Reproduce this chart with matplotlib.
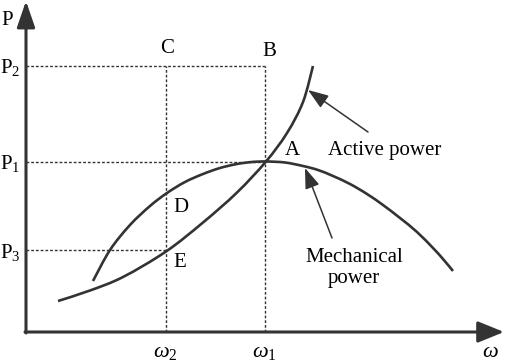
import matplotlib
matplotlib.use("Agg")
import matplotlib.pyplot as plt
from matplotlib.path import Path
from matplotlib.patches import PathPatch

plt.rcParams['font.family'] = ['Liberation Serif', 'DejaVu Serif']
plt.rcParams['mathtext.fontset'] = 'custom'
plt.rcParams['mathtext.rm'] = 'Liberation Serif'
plt.rcParams['mathtext.it'] = 'Liberation Serif:italic'

# ---- data (schematic units: omega horizontal, P vertical) ----
omega1 = 239
omega2 = 140
P1 = 170.5
P2 = 266.5
P3 = 82

active_w = [32, 64, 97, 140, 177, 211, 240, 261, 277, 287]
active_p = [31, 41.5, 55, 80.5, 109.5, 139.5, 170.5, 199, 230, 266]

mech_w = [67, 84, 104, 124, 141, 159, 177, 194, 211, 226, 240, 259, 277, 292,
          307, 324, 341, 357, 374, 391, 407, 417, 427]
mech_p = [51, 82, 107, 126, 139, 150, 158, 164, 168, 170, 170.5, 169.5, 166, 162,
          156, 148, 138, 127, 114, 100, 84, 73, 61]

y_labels = [r'$\mathrm{P}_2$', r'$\mathrm{P}_1$', r'$\mathrm{P}_3$']
y_levels = [P2, P1, P3]
x_labels = [r'$\omega_2$', r'$\omega_1$']
x_levels = [omega2, omega1]


def smooth_path(xs, ys):
    """Catmull-Rom control points -> cubic Bezier path through the read points."""
    pts = list(zip(xs, ys))
    n = len(pts)
    verts = [pts[0]]
    codes = [Path.MOVETO]
    for i in range(n - 1):
        p0 = pts[i - 1] if i > 0 else pts[i]
        p1 = pts[i]
        p2 = pts[i + 1]
        p3 = pts[i + 2] if i + 2 < n else pts[i + 1]
        c1 = (p1[0] + (p2[0] - p0[0]) / 6, p1[1] + (p2[1] - p0[1]) / 6)
        c2 = (p2[0] - (p3[0] - p1[0]) / 6, p2[1] - (p3[1] - p1[1]) / 6)
        verts += [c1, c2, p2]
        codes += [Path.CURVE4] * 3
    return Path(verts, codes)


fig = plt.figure(figsize=(5.05, 3.62), dpi=100)
ax = fig.add_axes([0, 0, 1, 1])
ax.set_xlim(-26, 479)
ax.set_ylim(-30, 332)
ax.axis('off')

ink = '#333333'
dash = dict(color='#333333', lw=1.0, ls=(0, (2.0, 1.4)))

# dashed guide lines
ax.plot([0, omega1], [P2, P2], **dash)
ax.plot([0, omega1], [P1, P1], **dash)
ax.plot([0, omega2], [P3, P3], **dash)
ax.plot([omega2, omega2], [0, P2], **dash)
ax.plot([omega1, omega1], [0, P2], **dash)

# axes with arrows
ax.annotate('', xy=(478, 0), xytext=(-1, 0),
            arrowprops=dict(arrowstyle='-|>,head_length=1.6,head_width=0.65',
                            color=ink, lw=2.2, shrinkA=0, shrinkB=0, mutation_scale=10))
ax.annotate('', xy=(0, 331), xytext=(0, -1),
            arrowprops=dict(arrowstyle='-|>,head_length=1.6,head_width=0.55',
                            color=ink, lw=2.2, shrinkA=0, shrinkB=0, mutation_scale=10))

# curves
for xs, ys in ((active_w, active_p), (mech_w, mech_p)):
    ax.add_patch(PathPatch(smooth_path(xs, ys), facecolor='none', edgecolor=ink,
                           lw=1.9, capstyle='butt', joinstyle='round'))

# pointer arrows
arr = dict(arrowstyle='-|>,head_length=1.25,head_width=0.45', color=ink, lw=1.1,
           shrinkA=0, shrinkB=0, mutation_scale=10)
ax.annotate('', xy=(282, 242), xytext=(342, 200), arrowprops=arr)
ax.annotate('', xy=(279, 164), xytext=(306, 94), arrowprops=arr)

fs = 15
# axis labels
ax.text(-25, 307, 'P', fontsize=fs, ha='left', va='baseline')
ax.text(456, -25, r'$\omega$', fontsize=fs + 1, ha='left', va='baseline')
for lab, lv in zip(y_labels, y_levels):
    ax.text(-26, lv - 8, lab, fontsize=fs, ha='left', va='baseline')
for lab, lv in zip(x_labels, x_levels):
    ax.text(lv - 13, -25, lab, fontsize=fs + 1, ha='left', va='baseline')

# point labels
ax.text(omega2 + 1, P2 + 12.5, 'C', fontsize=fs, ha='center', va='baseline')
ax.text(omega1 + 4, P2 + 9.5, 'B', fontsize=fs, ha='center', va='baseline')
ax.text(omega1 + 20, P1 + 6.5, 'A', fontsize=fs, ha='left', va='baseline')
ax.text(omega2 + 7, 120, 'D', fontsize=fs, ha='left', va='baseline')
ax.text(omega2 + 7, P3 - 17, 'E', fontsize=fs, ha='left', va='baseline')

ax.text(302, 177, 'Active power', fontsize=fs, ha='left', va='baseline')
ax.text(328, 70, 'Mechanical', fontsize=fs, ha='center', va='baseline')
ax.text(328, 49, 'power', fontsize=fs, ha='center', va='baseline')

fig.savefig('out.png', dpi=100)
